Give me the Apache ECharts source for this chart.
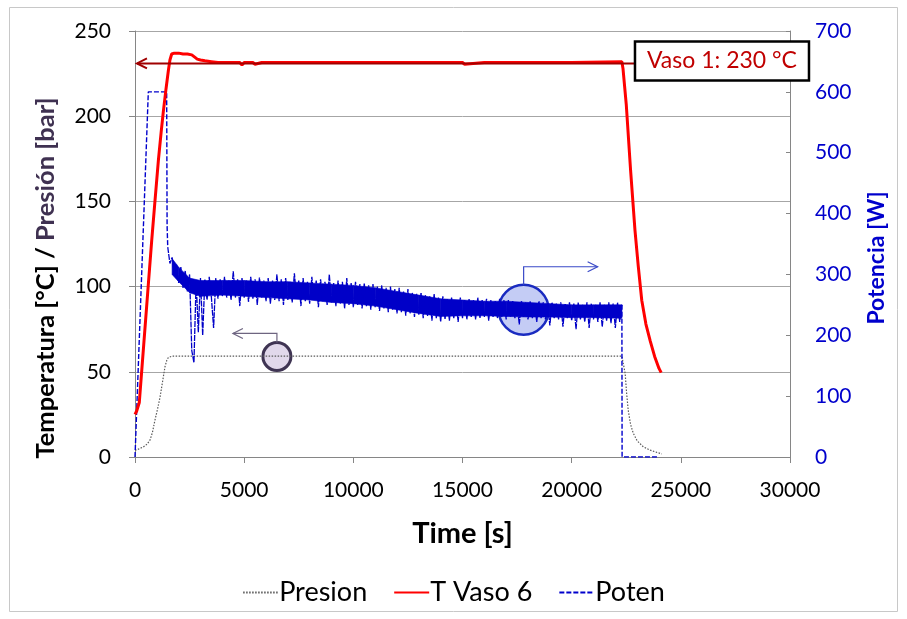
<!DOCTYPE html>
<html><head><meta charset="utf-8">
<script src="https://cdn.jsdelivr.net/npm/echarts@6/dist/echarts.min.js"></script>
<style>html,body{margin:0;padding:0;background:#fff}#c{width:907px;height:619px}</style>
</head><body><div id="c"></div>
<script>
// ---- data ----
const xTicks = [0, 5000, 10000, 15000, 20000, 25000, 30000];
const leftTicks = [0, 50, 100, 150, 200, 250];
const rightTicks = [0, 100, 200, 300, 400, 500, 600, 700];

const presionT = [0, 100, 380, 550, 690, 800, 915, 1030, 1145, 1260, 1374, 1450, 1527, 1600, 1700, 22300, 22370, 22450, 22520, 22590, 22700, 22820, 23000, 23280, 23600, 23900, 24130];
const presionV = [4, 4.3, 5.9, 7.5, 10, 14.5, 21.7, 28, 35, 44, 53, 56.5, 58.4, 59, 59.2, 59.2, 58.8, 49, 37, 27.5, 19, 14, 9.5, 6, 4, 2.7, 1.8];

const tVasoT = [0, 77, 197, 400, 600, 765, 900, 1070, 1200, 1300, 1420, 1530, 1600, 1680, 1800, 2000, 2200, 2400, 2600, 2750, 2850, 3000, 3200, 3500, 3800, 4200, 4800, 4900, 5000, 5400, 5500, 5800, 6000, 8000, 10000, 12000, 14000, 15000, 15100, 16000, 18000, 20000, 22300, 22350, 22500, 22700, 22900, 23050, 23210, 23400, 23600, 23800, 24000, 24100];
const tVasoV = [25, 27, 32, 66, 99.5, 127, 148, 174, 191, 203, 216, 227, 233, 236.5, 237, 237, 236.5, 236.5, 236, 234.5, 233.5, 233, 232.5, 232, 231.5, 231.5, 231.5, 230, 231.5, 231.5, 230.5, 231.5, 231.5, 231.5, 231.5, 231.5, 231.5, 231.5, 230.5, 231.5, 231.5, 231.5, 232, 228, 207, 168, 133, 112, 92, 78, 68, 59, 52, 49.5];

const potenHeadT = [0, 40, 610, 1450, 1470, 1500];
const potenHeadV = [0, 0, 600, 600, 380, 345];
const potenNoiseStart = 1500, potenNoiseStep = 100;
const potenNoiseV = [
 345,318,328,298,316,286,312,278,306,272,
 300,175,155,290,205,294,200,292,258,296,
 262,212,294,260,292,264,296,262,290,258,
 305,262,292,248,294,262,290,255,296,260,
 292,250,295,262,290,256,294,252,290,258,
 300,256,292,250,294,258,288,254,302,260,
 290,248,294,256,288,252,296,258,290,246,
 292,256,288,250,300,254,286,248,290,252,
 288,244,294,250,286,246,288,250,284,244,
 286,248,282,242,284,246,280,240,282,244,
 278,238,280,242,276,236,278,238,272,232,
 276,236,270,230,268,234,270,228,266,232,
 264,224,268,228,262,222,264,226,260,224,
 262,228,258,222,262,228,258,226,260,230,
 258,226,262,228,258,230,260,224,258,230,
 256,228,260,230,258,226,258,230,256,228,
 254,218,256,230,254,226,256,228,252,222,
 256,228,254,226,252,216,254,228,252,226,
 254,214,252,228,254,224,252,210,254,226,
 250,222,254,212,252,226,250,222,254,214,
 250,224,254,220,252,212,254,222,250
];
const potenTailT = [22300, 22310, 24000];
const potenTailV = [250, 0, 0];
// dense core of the noisy power trace (lower / upper edge of the solid band)
const bandT    = [1700, 2000, 2500, 3000, 4000, 5000, 6000, 7000, 8000, 9000, 10000, 11000, 12000, 13000, 14000, 15000, 16000, 17000, 18000, 19000, 20000, 21000, 22300];
const bandLow  = [300, 288, 270, 264, 266, 264, 262, 260, 258, 254, 252, 248, 242, 236, 231, 232, 232, 231, 230, 230, 229, 229, 228];
const bandHigh = [326, 312, 294, 290, 290, 290, 288, 288, 286, 284, 282, 278, 272, 266, 260, 258, 256, 256, 254, 252, 250, 250, 250];

// ---- build series data ----
const zip = (a, b) => a.map((t, i) => [t, b[i]]);
const presionData = zip(presionT, presionV);
const tVasoData = zip(tVasoT, tVasoV);
const potenHeadData = zip(potenHeadT, potenHeadV);
const potenNoiseData = potenNoiseV.map((v, i) => [potenNoiseStart + i * potenNoiseStep, v]);
const potenTailData = zip(potenTailT, potenTailV);
const bandData = bandT.map((t, i) => [t, bandLow[i], bandHigh[i]]);

const FONT = 'Lato, "Open Sans", sans-serif';
const chart = echarts.init(document.getElementById('c'), null, {renderer: 'canvas'});

const potenDashed = {color: '#0000CC', width: 1.4, type: [5, 2]};
const option = {
  animation: false,
  backgroundColor: '#fff',
  grid: {left: 135, right: 117, top: 31, bottom: 162, containLabel: false},
  legend: {
    bottom: 8, left: 'center', itemWidth: 35, itemHeight: 14, itemGap: 26,
    itemStyle: {opacity: 0},
    textStyle: {fontSize: 27, fontFamily: FONT, color: '#000', padding: [0, 0, 0, -4]},
    data: ['Presion', 'T Vaso 6', 'Poten']
  },
  xAxis: {
    type: 'value', min: xTicks[0], max: xTicks[xTicks.length - 1], interval: xTicks[1] - xTicks[0],
    name: 'Time [s]', nameLocation: 'middle', nameGap: 62,
    nameTextStyle: {fontSize: 29, fontWeight: 'bold', fontFamily: FONT, color: '#000'},
    axisLine: {lineStyle: {color: '#868686', width: 1}},
    axisTick: {show: true, length: 6, lineStyle: {color: '#868686'}},
    axisLabel: {fontSize: 21, fontFamily: FONT, color: '#000', margin: 23, formatter: v => String(v)},
    splitLine: {show: false}
  },
  yAxis: [{
    type: 'value', min: leftTicks[0], max: leftTicks[leftTicks.length - 1], interval: leftTicks[1] - leftTicks[0],
    position: 'left',
    axisLine: {show: true, lineStyle: {color: '#868686', width: 1}},
    axisTick: {show: true, length: 6, lineStyle: {color: '#868686'}},
    axisLabel: {fontSize: 21, fontFamily: FONT, color: '#000', margin: 24},
    splitLine: {show: true, lineStyle: {color: '#A6A6A6', width: 1}}
  }, {
    type: 'value', min: rightTicks[0], max: rightTicks[rightTicks.length - 1], interval: rightTicks[1] - rightTicks[0],
    position: 'right',
    axisLine: {show: true, lineStyle: {color: '#868686', width: 1}},
    axisTick: {show: true, inside: true, length: 4, lineStyle: {color: '#868686'}},
    axisLabel: {fontSize: 21, fontFamily: FONT, color: '#0000CC', margin: 25},
    splitLine: {show: false}
  }],
  series: [{
    name: 'Presion', type: 'line', yAxisIndex: 0, data: presionData,
    showSymbol: false, symbol: 'none', z: 3,
    itemStyle: {color: '#595959'},
    lineStyle: {color: '#595959', width: 1.2, type: [1.5, 1.5]}
  }, {
    name: 'T Vaso 6', type: 'line', yAxisIndex: 0, data: tVasoData,
    showSymbol: false, symbol: 'none', z: 5,
    itemStyle: {color: '#FF0000'},
    lineStyle: {color: '#FF0000', width: 3}
  }, {
    name: 'Poten', type: 'line', yAxisIndex: 1, data: potenHeadData,
    showSymbol: false, symbol: 'none', z: 4,
    itemStyle: {color: '#0000CC'}, lineStyle: potenDashed
  }, {
    name: 'Poten', type: 'line', yAxisIndex: 1, data: potenNoiseData,
    showSymbol: false, symbol: 'none', z: 4,
    itemStyle: {color: '#0000CC'}, lineStyle: {color: '#0000C8', width: 1.3, type: [6, 1]}
  }, {
    name: 'Poten', type: 'line', yAxisIndex: 1, data: potenTailData,
    showSymbol: false, symbol: 'none', z: 4,
    itemStyle: {color: '#0000CC'}, lineStyle: potenDashed
  }, {
    name: 'PotenBand', type: 'custom', yAxisIndex: 1, data: bandData, z: 4, silent: true,
    encode: {x: 0, y: [1, 2]},
    renderItem: function (params, api) {
      const i = params.dataIndex;
      if (i === 0) return null;
      const pts = [
        api.coord([bandT[i - 1], bandLow[i - 1]]),
        api.coord([bandT[i], bandLow[i]]),
        api.coord([bandT[i], bandHigh[i]]),
        api.coord([bandT[i - 1], bandHigh[i - 1]])
      ];
      return {type: 'polygon', shape: {points: pts}, style: {fill: '#0000C8', stroke: '#0000C8', lineWidth: 0.6}};
    }
  }]
};
chart.setOption(option);

// ---- annotations positioned through the axes ----
const P = (t, v, ax) => chart.convertToPixel({xAxisIndex: 0, yAxisIndex: ax || 0}, [t, v]);
const a = P(90, 231), b = P(22900, 231);
const pc = P(6500, 59);
const bc = P(17800, 242, 1);
const g = [];
g.push({type: 'rect', shape: {x: 9.5, y: 7.5, width: 888, height: 604}, style: {fill: null, stroke: '#C8C8C8', lineWidth: 1}, z: 0, silent: true});
g.push({type: 'text', x: 46, y: 278, rotation: Math.PI / 2, z: 10,
  style: {text: '{a|Temperatura [°C] / }{b|Presión [bar]}', align: 'center', verticalAlign: 'middle',
    rich: {a: {fill: '#000', fontSize: 25.5, fontWeight: 'bold', fontFamily: FONT},
           b: {fill: '#3F3151', fontSize: 25.5, fontWeight: 'bold', fontFamily: FONT}}}});
g.push({type: 'text', x: 877, y: 258, rotation: Math.PI / 2, z: 10,
  style: {text: 'Potencia [W]', fill: '#0000CC', fontSize: 23, fontWeight: 'bold', fontFamily: FONT, align: 'center', verticalAlign: 'middle'}});
g.push({type: 'polyline', z: 20, shape: {points: [a, b]}, style: {stroke: '#A00000', lineWidth: 2, fill: null}});
g.push({type: 'polyline', z: 20, shape: {points: [[a[0] + 10, a[1] - 5], a, [a[0] + 10, a[1] + 5]]}, style: {stroke: '#A00000', lineWidth: 2, fill: null}});
g.push({type: 'rect', z: 21, shape: {x: b[0], y: b[1] - 22, width: 174, height: 39}, style: {fill: '#fff', stroke: '#000', lineWidth: 2.5}});
g.push({type: 'text', z: 22, x: b[0] + 87, y: b[1] - 2.5, style: {text: 'Vaso 1: 230 °C', fill: '#C00000', fontSize: 23, fontFamily: FONT, align: 'center', verticalAlign: 'middle'}});
g.push({type: 'circle', z: 1, shape: {cx: pc[0], cy: pc[1], r: 14}, style: {fill: '#E1D8EB', stroke: '#3F3453', lineWidth: 3}});
g.push({type: 'polyline', z: 1, shape: {points: [[pc[0], pc[1] - 14], [pc[0], pc[1] - 23], [pc[0] - 44, pc[1] - 23]]}, style: {stroke: '#6E6580', lineWidth: 1.2, fill: null}});
g.push({type: 'polyline', z: 1, shape: {points: [[pc[0] - 34, pc[1] - 28], [pc[0] - 44, pc[1] - 23], [pc[0] - 34, pc[1] - 18]]}, style: {stroke: '#6E6580', lineWidth: 1.2, fill: null}});
g.push({type: 'circle', z: 1, shape: {cx: bc[0], cy: bc[1], r: 25}, style: {fill: '#C4CCF5', stroke: '#1A2BC0', lineWidth: 2.5}});
g.push({type: 'polyline', z: 1, shape: {points: [[bc[0], bc[1] - 25], [bc[0], bc[1] - 43], [bc[0] + 74, bc[1] - 43]]}, style: {stroke: '#3A4AC8', lineWidth: 1.2, fill: null}});
g.push({type: 'polyline', z: 1, shape: {points: [[bc[0] + 64, bc[1] - 48], [bc[0] + 74, bc[1] - 43], [bc[0] + 64, bc[1] - 38]]}, style: {stroke: '#3A4AC8', lineWidth: 1.2, fill: null}});
chart.setOption({graphic: {elements: g}});
</script>
</body></html>
